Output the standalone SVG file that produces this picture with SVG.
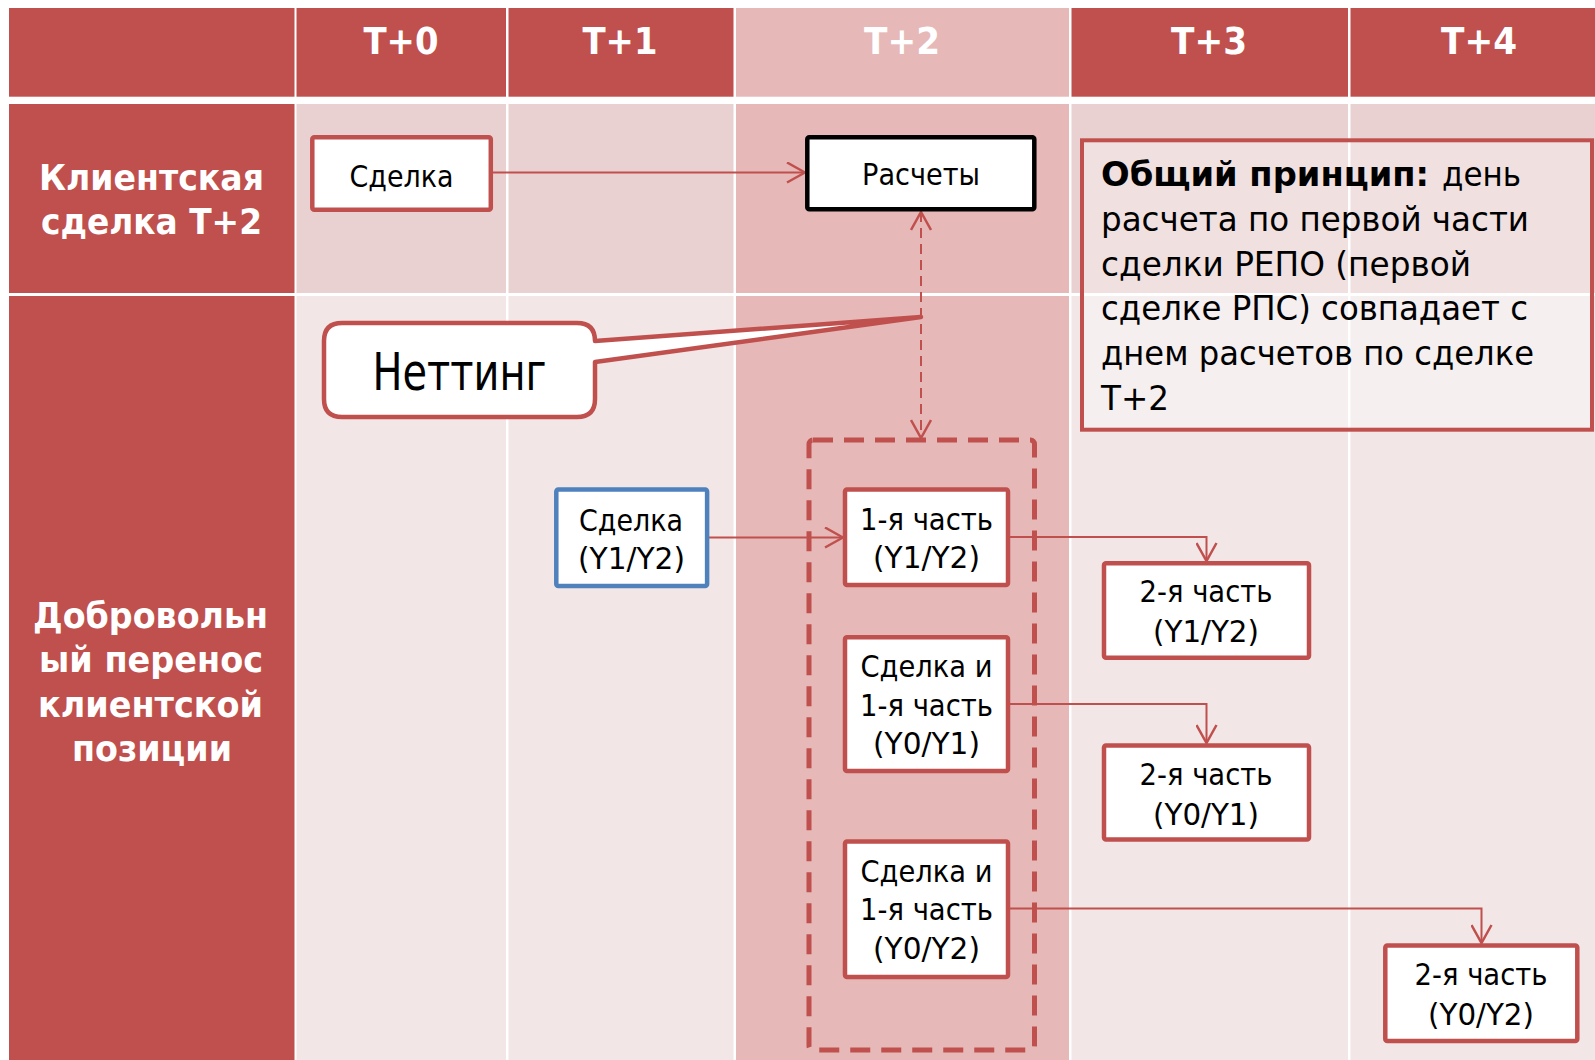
<svg xmlns="http://www.w3.org/2000/svg" width="1595" height="1060" viewBox="0 0 1595 1060">
<style>
.hd{fill:#C0504D}
.hl{fill:#E6B8B7}
.r1{fill:#E8D1D0}
.r2{fill:#F2E6E6}
.ht{font-family:"DejaVu Sans",Verdana,sans-serif;font-weight:bold;font-size:37px;fill:#fff;text-anchor:middle}
.lt{font-family:"DejaVu Sans",Verdana,sans-serif;font-weight:bold;font-size:35px;fill:#fff;text-anchor:middle}
.nt{font-family:"DejaVu Sans",Verdana,sans-serif;font-size:30px;fill:#000;text-anchor:middle}
.bx{fill:#fff;stroke:#C0504D;stroke-width:4.5}
.nx{font-family:"DejaVu Sans",Verdana,sans-serif;font-size:34px;fill:#000}
.cn{fill:none;stroke:#C0504D;stroke-width:2}
</style>
<defs>
<marker id="arr" viewBox="0 0 20 22" refX="19" refY="11" markerWidth="20" markerHeight="22" orient="auto-start-reverse" markerUnits="userSpaceOnUse">
<path d="M1,1 L19,11 L1,21" fill="none" stroke="#C0504D" stroke-width="2.5"/>
</marker>
</defs>
<rect x="0" y="0" width="1595" height="1060" fill="#fff"/>
<g id="table">
<rect class="hd" x="9" y="8" width="285.5" height="88.7"/>
<rect class="hd" x="296.5" y="8" width="209.5" height="88.7"/>
<rect class="hd" x="508.5" y="8" width="225" height="88.7"/>
<rect class="hl" x="736" y="8" width="333" height="88.7"/>
<rect class="hd" x="1071.5" y="8" width="276.5" height="88.7"/>
<rect class="hd" x="1350.5" y="8" width="244.5" height="88.7"/>
<rect class="hd" x="9" y="104" width="285.5" height="189"/>
<rect class="r1" x="296.5" y="104" width="209.5" height="189"/>
<rect class="r1" x="508.5" y="104" width="225" height="189"/>
<rect class="hl" x="736" y="104" width="333" height="189"/>
<rect class="r1" x="1071.5" y="104" width="276.5" height="189"/>
<rect class="r1" x="1350.5" y="104" width="244.5" height="189"/>
<rect class="hd" x="9" y="296" width="285.5" height="764"/>
<rect class="r2" x="296.5" y="296" width="209.5" height="764"/>
<rect class="r2" x="508.5" y="296" width="225" height="764"/>
<rect class="hl" x="736" y="296" width="333" height="764"/>
<rect class="r2" x="1071.5" y="296" width="276.5" height="764"/>
<rect class="r2" x="1350.5" y="296" width="244.5" height="764"/>
<text class="ht" x="401" y="54" textLength="75" lengthAdjust="spacingAndGlyphs">T+0</text>
<text class="ht" x="620" y="54" textLength="75" lengthAdjust="spacingAndGlyphs">T+1</text>
<text class="ht" x="902" y="54" textLength="76" lengthAdjust="spacingAndGlyphs">T+2</text>
<text class="ht" x="1209" y="54" textLength="76" lengthAdjust="spacingAndGlyphs">T+3</text>
<text class="ht" x="1479" y="54" textLength="76" lengthAdjust="spacingAndGlyphs">T+4</text>
<text class="lt" x="151.5" y="190" textLength="225" lengthAdjust="spacingAndGlyphs">Клиентская</text>
<text class="lt" x="151.5" y="234" textLength="221" lengthAdjust="spacingAndGlyphs">сделка Т+2</text>
<text class="lt" x="150.5" y="628" textLength="235" lengthAdjust="spacingAndGlyphs">Добровольн</text>
<text class="lt" x="151" y="672" textLength="224" lengthAdjust="spacingAndGlyphs">ый перенос</text>
<text class="lt" x="150.5" y="717" textLength="225" lengthAdjust="spacingAndGlyphs">клиентской</text>
<text class="lt" x="152" y="761" textLength="160" lengthAdjust="spacingAndGlyphs">позиции</text>
</g>
<g id="netting-group">
<rect id="dashed-frame" x="809" y="440" width="225.5" height="610" rx="4" fill="none" stroke="#C0504D" stroke-width="5" stroke-dasharray="20 11"/>
</g>
<g id="note">
<rect x="1082" y="140.3" width="510" height="289.4" fill="#fff" fill-opacity="0.35" stroke="#C0504D" stroke-width="4"/>
<text class="nx" x="1101" y="186" font-weight="bold" textLength="328" lengthAdjust="spacingAndGlyphs">Общий принцип:</text>
<text class="nx" x="1442" y="186" textLength="79" lengthAdjust="spacingAndGlyphs">день</text>
<text class="nx" x="1101" y="231" textLength="428" lengthAdjust="spacingAndGlyphs">расчета по первой части</text>
<text class="nx" x="1101" y="275.5" textLength="370" lengthAdjust="spacingAndGlyphs">сделки РЕПО (первой</text>
<text class="nx" x="1101" y="320" textLength="427" lengthAdjust="spacingAndGlyphs">сделке РПС) совпадает с</text>
<text class="nx" x="1101" y="365" textLength="433" lengthAdjust="spacingAndGlyphs">днем расчетов по сделке</text>
<text class="nx" x="1101" y="410" textLength="68" lengthAdjust="spacingAndGlyphs">Т+2</text>
</g>
<g id="connectors">
<path class="cn" d="M493,172.5 H805" marker-end="url(#arr)"/>
<path class="cn" d="M921,212 V438" stroke-dasharray="10 6" marker-start="url(#arr)" marker-end="url(#arr)"/>
<path class="cn" d="M709,537.5 H843" marker-end="url(#arr)"/>
<path class="cn" d="M1010,537 H1206.5 V561" marker-end="url(#arr)"/>
<path class="cn" d="M1010,704 H1206.5 V743" marker-end="url(#arr)"/>
<path class="cn" d="M1010,908.5 H1481.5 V943" marker-end="url(#arr)"/>
</g>
<g id="callout-netting">
<path d="M342,323 H577 Q595,323 595,341 L921,317 L595,362 V399 Q595,417 577,417 H342 Q324,417 324,399 V341 Q324,323 342,323 Z" fill="#fff" stroke="#C0504D" stroke-width="4.5" stroke-linejoin="round"/>
<text x="459.5" y="390" font-family="DejaVu Sans, Verdana, sans-serif" font-size="51" fill="#000" text-anchor="middle" textLength="174" lengthAdjust="spacingAndGlyphs">Неттинг</text>
</g>
<g id="n1">
<rect class="bx" x="312.3" y="137.3" width="178.5" height="72.5" rx="2"/>
<text class="nt" x="401.5" y="187" textLength="104" lengthAdjust="spacingAndGlyphs">Сделка</text>
</g>
<g id="n2">
<rect x="807.3" y="137.3" width="227" height="72" rx="2" fill="#fff" stroke="#000" stroke-width="4.5"/>
<text class="nt" x="921" y="185" textLength="118" lengthAdjust="spacingAndGlyphs">Расчеты</text>
</g>
<g id="n3">
<rect x="556.3" y="489.5" width="150.8" height="96.5" rx="2" fill="#fff" stroke="#4F81BD" stroke-width="4.5"/>
<text class="nt" x="631" y="531" textLength="104" lengthAdjust="spacingAndGlyphs">Сделка</text>
<text class="nt" x="631.5" y="569" textLength="107" lengthAdjust="spacingAndGlyphs">(Y1/Y2)</text>
</g>
<g id="n4">
<rect class="bx" x="845" y="489.5" width="163" height="95.5" rx="2"/>
<text class="nt" x="926.5" y="530" textLength="133" lengthAdjust="spacingAndGlyphs">1-я часть</text>
<text class="nt" x="926.5" y="568" textLength="107" lengthAdjust="spacingAndGlyphs">(Y1/Y2)</text>
</g>
<g id="n5">
<rect class="bx" x="845" y="637.3" width="163" height="133.7" rx="2"/>
<text class="nt" x="926.5" y="677" textLength="132" lengthAdjust="spacingAndGlyphs">Сделка и</text>
<text class="nt" x="926.5" y="715.5" textLength="133" lengthAdjust="spacingAndGlyphs">1-я часть</text>
<text class="nt" x="926.5" y="754" textLength="107" lengthAdjust="spacingAndGlyphs">(Y0/Y1)</text>
</g>
<g id="n6">
<rect class="bx" x="845" y="841.5" width="163" height="135.5" rx="2"/>
<text class="nt" x="926.5" y="881.5" textLength="132" lengthAdjust="spacingAndGlyphs">Сделка и</text>
<text class="nt" x="926.5" y="920" textLength="133" lengthAdjust="spacingAndGlyphs">1-я часть</text>
<text class="nt" x="926.5" y="958.5" textLength="107" lengthAdjust="spacingAndGlyphs">(Y0/Y2)</text>
</g>
<g id="n7">
<rect class="bx" x="1104" y="563.3" width="205" height="94.5" rx="2"/>
<text class="nt" x="1206" y="602" textLength="133" lengthAdjust="spacingAndGlyphs">2-я часть</text>
<text class="nt" x="1206" y="642" textLength="106" lengthAdjust="spacingAndGlyphs">(Y1/Y2)</text>
</g>
<g id="n8">
<rect class="bx" x="1104" y="745.5" width="205" height="94" rx="2"/>
<text class="nt" x="1206" y="785" textLength="133" lengthAdjust="spacingAndGlyphs">2-я часть</text>
<text class="nt" x="1206" y="825" textLength="106" lengthAdjust="spacingAndGlyphs">(Y0/Y1)</text>
</g>
<g id="n9">
<rect class="bx" x="1385.3" y="945.5" width="192" height="95.5" rx="2"/>
<text class="nt" x="1481" y="985" textLength="133" lengthAdjust="spacingAndGlyphs">2-я часть</text>
<text class="nt" x="1481" y="1025" textLength="106" lengthAdjust="spacingAndGlyphs">(Y0/Y2)</text>
</g>
</svg>
